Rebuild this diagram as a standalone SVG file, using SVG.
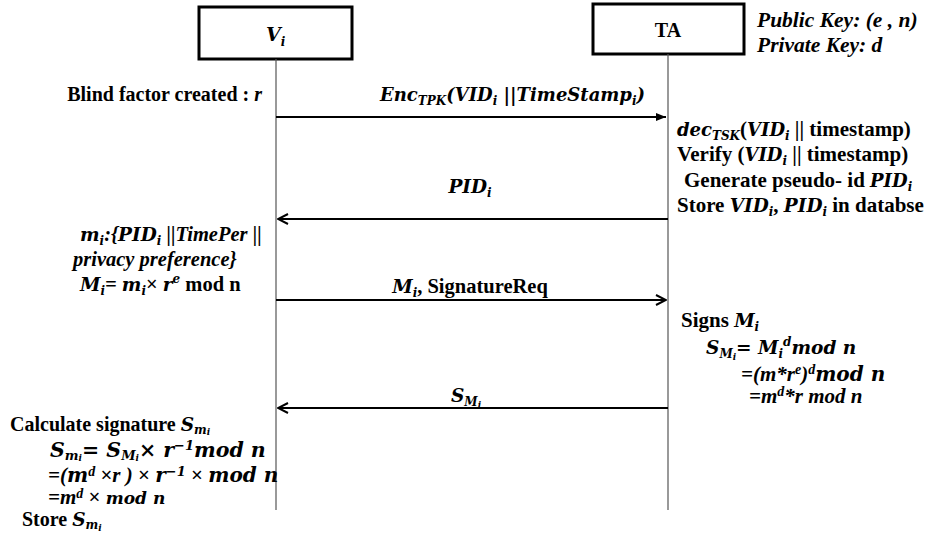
<svg xmlns="http://www.w3.org/2000/svg" width="936" height="535" viewBox="0 0 936 535">
<defs>
<marker id="fill" viewBox="0 0 10 10" refX="10" refY="5" markerWidth="5" markerHeight="5" orient="auto" markerUnits="strokeWidth">
<path d="M0,1 L10,5 L0,9 z" fill="#000"/>
</marker>
<marker id="open" viewBox="0 0 12 12" refX="11" refY="6" markerWidth="6" markerHeight="6" orient="auto" markerUnits="strokeWidth">
<path d="M1,1 L11,6 L1,11" fill="none" stroke="#000" stroke-width="2"/>
</marker>
</defs>

<g id="node-Vi">
<rect x="199" y="7" width="153" height="52" fill="#fff" stroke="#000" stroke-width="3"/>
<text font-family="'DejaVu Serif', serif" font-weight="bold" font-style="italic" font-size="19" x="266" y="41">V<tspan font-size="12" dy="5">i</tspan></text>
</g>
<g id="node-TA">
<rect x="593" y="4" width="151" height="50" fill="#fff" stroke="#000" stroke-width="3"/>
<text font-family="'Liberation Serif', serif" font-weight="bold" font-size="20" x="668" y="37" text-anchor="middle">TA</text>
</g>

<g id="connectors" fill="none">
<line x1="276" y1="59" x2="276" y2="510" stroke="#555" stroke-width="1.2"/>
<line x1="668" y1="54" x2="668" y2="510" stroke="#555" stroke-width="1.2"/>
<line x1="276" y1="117" x2="666" y2="117" stroke="#000" stroke-width="2" marker-end="url(#fill)"/>
<line x1="668" y1="219" x2="278" y2="219" stroke="#000" stroke-width="2" marker-end="url(#open)"/>
<line x1="276" y1="300" x2="666" y2="300" stroke="#000" stroke-width="2" marker-end="url(#open)"/>
<line x1="668" y1="408" x2="278" y2="408" stroke="#000" stroke-width="2" marker-end="url(#open)"/>
</g>

<g id="labels" fill="#000" font-weight="bold">
<text font-family="'Liberation Serif', serif" font-size="20" x="262" y="101" text-anchor="end">Blind factor created : <tspan font-style="italic">r</tspan></text>
<text font-family="'DejaVu Serif', serif" font-style="italic" font-size="18" x="380" y="101">Enc<tspan font-size="12" dy="4">TPK</tspan><tspan dy="-4">(VID</tspan><tspan font-size="12" dy="4">i</tspan><tspan dy="-4"> ||TimeStamp</tspan><tspan font-size="12" dy="4">i</tspan><tspan dy="-4">)</tspan></text>

<text font-family="'Liberation Serif', serif" font-style="italic" font-size="21.5" x="757" y="27">Public Key: (e , n)</text>
<text font-family="'Liberation Serif', serif" font-style="italic" font-size="21.5" x="757" y="52">Private Key: d</text>

<text font-family="'Liberation Serif', serif" font-size="21" x="677" y="136"><tspan font-family="'DejaVu Serif', serif" font-style="italic" font-size="18">dec</tspan><tspan font-family="'DejaVu Serif', serif" font-style="italic" font-size="12" dy="4">TSK</tspan><tspan dy="-4">(</tspan><tspan font-family="'DejaVu Serif', serif" font-style="italic" font-size="18">VID</tspan><tspan font-family="'DejaVu Serif', serif" font-style="italic" font-size="12" dy="4">i</tspan><tspan dy="-4"> || timestamp)</tspan></text>
<text font-family="'Liberation Serif', serif" font-size="21" x="677" y="161">Verify (<tspan font-family="'DejaVu Serif', serif" font-style="italic" font-size="18">VID</tspan><tspan font-family="'DejaVu Serif', serif" font-style="italic" font-size="12" dy="4">i</tspan><tspan dy="-4"> || timestamp)</tspan></text>
<text font-family="'Liberation Serif', serif" font-size="21" x="684" y="187">Generate pseudo- id <tspan font-family="'DejaVu Serif', serif" font-style="italic" font-size="18">PID</tspan><tspan font-family="'DejaVu Serif', serif" font-style="italic" font-size="12" dy="4">i</tspan></text>
<text font-family="'Liberation Serif', serif" font-size="21" x="677" y="212">Store <tspan font-family="'DejaVu Serif', serif" font-style="italic" font-size="18.5">VID</tspan><tspan font-family="'DejaVu Serif', serif" font-style="italic" font-size="12" dy="4">i</tspan><tspan dy="-4">, </tspan><tspan font-family="'DejaVu Serif', serif" font-style="italic" font-size="18.5">PID</tspan><tspan font-family="'DejaVu Serif', serif" font-style="italic" font-size="12" dy="4">i</tspan><tspan dy="-4"> in databse</tspan></text>

<text font-family="'DejaVu Serif', serif" font-style="italic" font-size="18.5" x="470" y="193" text-anchor="middle">PID<tspan font-size="12" dy="4">i</tspan></text>

<text font-family="'Liberation Serif', serif" font-style="italic" font-size="20.5" x="80" y="241"><tspan font-family="'DejaVu Serif', serif" font-size="18.5">m</tspan><tspan font-family="'DejaVu Serif', serif" font-size="12" dy="4">i</tspan><tspan dy="-4">:{</tspan><tspan font-family="'DejaVu Serif', serif" font-size="18.5">PID</tspan><tspan font-family="'DejaVu Serif', serif" font-size="12" dy="4">i</tspan><tspan dy="-4"> ||TimePer  ||</tspan></text>
<text font-family="'Liberation Serif', serif" font-style="italic" font-size="20.5" x="73" y="266">privacy preference}</text>
<text font-family="'Liberation Serif', serif" font-size="20.5" x="80" y="291"><tspan font-family="'DejaVu Serif', serif" font-style="italic" font-size="18.5">M</tspan><tspan font-family="'DejaVu Serif', serif" font-style="italic" font-size="12" dy="4">i</tspan><tspan dy="-4" font-style="italic">= </tspan><tspan font-family="'DejaVu Serif', serif" font-style="italic" font-size="18.5">m</tspan><tspan font-family="'DejaVu Serif', serif" font-style="italic" font-size="12" dy="4">i</tspan><tspan dy="-4">× </tspan><tspan font-family="'DejaVu Serif', serif" font-style="italic" font-size="18.5">r</tspan><tspan font-family="'DejaVu Serif', serif" font-style="italic" font-size="12" dy="-8">e</tspan><tspan dy="8"> mod n</tspan></text>

<text font-family="'Liberation Serif', serif" font-size="20.5" x="470" y="293" text-anchor="middle"><tspan font-family="'DejaVu Serif', serif" font-style="italic" font-size="18.5">M</tspan><tspan font-family="'DejaVu Serif', serif" font-style="italic" font-size="12" dy="4">i</tspan><tspan dy="-4">, SignatureReq</tspan></text>

<text font-family="'Liberation Serif', serif" font-size="21" x="681" y="327">Signs <tspan font-family="'DejaVu Serif', serif" font-style="italic" font-size="18.5">M</tspan><tspan font-family="'DejaVu Serif', serif" font-style="italic" font-size="12" dy="4">i</tspan></text>
<text font-family="'DejaVu Serif', serif" font-style="italic" font-size="18.5" x="706" y="354">S<tspan font-size="12" dy="4">M</tspan><tspan font-size="9" dy="2">i</tspan><tspan dy="-6">= M</tspan><tspan font-size="12" dy="4">i</tspan><tspan font-size="12" dy="-12">d</tspan><tspan dy="8">mod n</tspan></text>
<text font-family="'Liberation Serif', serif" font-style="italic" font-size="21" x="741" y="381">=(m*r<tspan font-size="14" dy="-7">e</tspan><tspan dy="7">)</tspan><tspan font-size="14" dy="-7">d</tspan><tspan dy="7" font-family="'DejaVu Serif', serif" font-size="20">mod n</tspan></text>
<text font-family="'Liberation Serif', serif" font-style="italic" font-size="21" x="749" y="403">=m<tspan font-size="14" dy="-7">d</tspan><tspan dy="7">*r mod n</tspan></text>

<text font-family="'DejaVu Serif', serif" font-style="italic" font-size="18.5" x="466" y="402" text-anchor="middle">S<tspan font-size="12" dy="4">M</tspan><tspan font-size="9" dy="2">i</tspan></text>

<text font-family="'Liberation Serif', serif" font-size="20" x="10" y="431">Calculate signature <tspan font-family="'DejaVu Serif', serif" font-style="italic" font-size="18.5">S</tspan><tspan font-family="'DejaVu Serif', serif" font-style="italic" font-size="12" dy="3">m</tspan><tspan font-family="'DejaVu Serif', serif" font-style="italic" font-size="9" dy="1">i</tspan></text>
<text font-family="'DejaVu Serif', serif" font-style="italic" font-size="20.5" x="50" y="457">S<tspan font-size="13" dy="3">m</tspan><tspan font-size="9" dy="1">i</tspan><tspan dy="-4">= S</tspan><tspan font-size="13" dy="3">M</tspan><tspan font-size="9" dy="1">i</tspan><tspan dy="-4" font-style="normal">×</tspan><tspan> r</tspan><tspan font-size="13" dy="-7">−1</tspan><tspan dy="7">mod n</tspan></text>
<text font-family="'Liberation Serif', serif" font-style="italic" font-size="21" x="48" y="482">=(<tspan font-family="'DejaVu Serif', serif" font-size="20">m</tspan><tspan font-size="14" dy="-6">d</tspan><tspan dy="6" font-style="normal"> ×</tspan><tspan>r ) </tspan><tspan font-style="normal">× </tspan><tspan font-family="'DejaVu Serif', serif" font-size="20">r</tspan><tspan font-family="'DejaVu Serif', serif" font-size="13" dy="-6">−1</tspan><tspan dy="6" font-style="normal"> × </tspan><tspan font-family="'DejaVu Serif', serif" font-size="20">mod n</tspan></text>
<text font-family="'Liberation Serif', serif" font-style="italic" font-size="21" x="48" y="504">=m<tspan font-size="14" dy="-6">d</tspan><tspan dy="6" font-style="normal"> × </tspan><tspan font-family="'DejaVu Serif', serif" font-size="17">mod n</tspan></text>
<text font-family="'Liberation Serif', serif" font-size="20" x="22" y="526">Store  <tspan font-family="'DejaVu Serif', serif" font-style="italic" font-size="18.5">S</tspan><tspan font-family="'DejaVu Serif', serif" font-style="italic" font-size="12" dy="3">m</tspan><tspan font-family="'DejaVu Serif', serif" font-style="italic" font-size="9" dy="2">i</tspan></text>
</g>
</svg>
